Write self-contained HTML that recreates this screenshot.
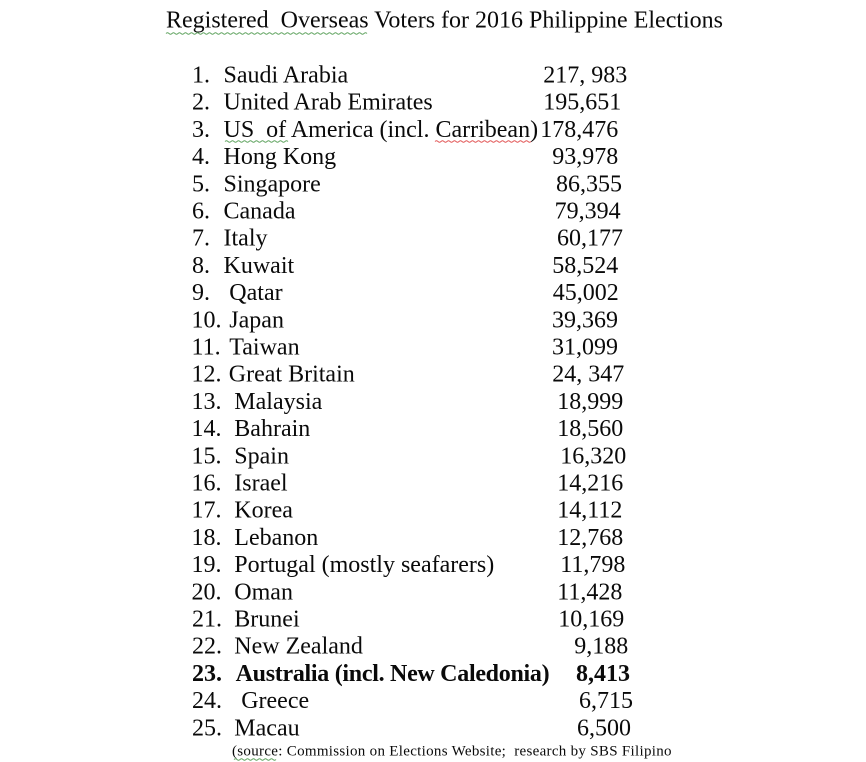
<!DOCTYPE html>
<html>
<head>
<meta charset="utf-8">
<style>
  html, body { margin:0; padding:0; background:#ffffff; }
  body { width:866px; height:762px; overflow:hidden; }
  svg { display:block; }
  text { font-family: "Liberation Serif", "Times New Roman", serif; fill:#0a0a0a; }
  .r { font-size:24px; }
  .b { font-weight:bold; }
  .t { font-size:24px; }
  .s { font-size:15px; letter-spacing:0.3px; }
</style>
</head>
<body>
<svg width="866" height="762" viewBox="0 0 866 762" xmlns="http://www.w3.org/2000/svg">
  <rect width="866" height="762" fill="#ffffff"/>
  <!-- Title -->
  <text class="t" x="166" y="27.7" xml:space="preserve">Registered  Overseas Voters for 2016 Philippine Elections</text>
  <path d="M166 33.5 q1.5 -1.5 3 0 t3 0 t3 0 t3 0 t3 0 t3 0 t3 0 t3 0 t3 0 t3 0 t3 0 t3 0 t3 0 t3 0 t3 0 t3 0 t3 0 t3 0 t3 0 t3 0 t3 0 t3 0 t3 0 t3 0 t3 0 t3 0 t3 0 t3 0 t3 0 t3 0 t3 0 t3 0 t3 0 t3 0 t3 0 t3 0 t3 0 t3 0 t3 0 t3 0 t3 0 t3 0 t3 0 t3 0 t3 0 t3 0 t3 0 t3 0 t3 0 t3 0 t3 0 t3 0 t3 0 t3 0 t3 0 t3 0 t3 0 t3 0 t3 0 t3 0 t3 0 t3 0 t3 0 t3 0 t3 0 t3 0 t3 0" fill="none" stroke="#5aa05a" stroke-width="0.9"/>

  <!-- Rows -->
  <g class="r">
    <text x="192" y="82.5">1.</text><text x="223.5" y="82.5">Saudi Arabia</text><text x="543.3" y="82.5">217, 983</text>
    <text x="192" y="109.7">2.</text><text x="223.5" y="109.7">United Arab Emirates</text><text x="543.3" y="109.7">195,651</text>
    <text x="192" y="136.9">3.</text><text x="223.5" y="136.9" xml:space="preserve">US  of America (incl. Carribean)</text><text x="540.3" y="136.9">178,476</text>
    <text x="192" y="164.1">4.</text><text x="223.5" y="164.1">Hong Kong</text><text x="552.3" y="164.1">93,978</text>
    <text x="192" y="191.3">5.</text><text x="223.5" y="191.3">Singapore</text><text x="556" y="191.3">86,355</text>
    <text x="192" y="218.5">6.</text><text x="223.5" y="218.5">Canada</text><text x="554.6" y="218.5">79,394</text>
    <text x="192" y="245.7">7.</text><text x="223.5" y="245.7">Italy</text><text x="557" y="245.7">60,177</text>
    <text x="192" y="272.9">8.</text><text x="223.5" y="272.9">Kuwait</text><text x="552.2" y="272.9">58,524</text>
    <text x="192" y="300.1">9.</text><text x="229.3" y="300.1">Qatar</text><text x="552.7" y="300.1">45,002</text>
    <text x="191.5" y="327.3">10.</text><text x="229.3" y="327.3">Japan</text><text x="552" y="327.3">39,369</text>
    <text x="191.5" y="354.5">11.</text><text x="229.3" y="354.5">Taiwan</text><text x="552" y="354.5">31,099</text>
    <text x="191.5" y="381.7">12.</text><text x="228.8" y="381.7">Great Britain</text><text x="552.3" y="381.7">24, 347</text>
    <text x="191.5" y="408.9">13.</text><text x="234.3" y="408.9">Malaysia</text><text x="557.3" y="408.9">18,999</text>
    <text x="191.5" y="436.1">14.</text><text x="234.3" y="436.1">Bahrain</text><text x="557.3" y="436.1">18,560</text>
    <text x="191.5" y="463.3">15.</text><text x="234.3" y="463.3">Spain</text><text x="560.3" y="463.3">16,320</text>
    <text x="191.5" y="490.5">16.</text><text x="234.3" y="490.5">Israel</text><text x="557.3" y="490.5">14,216</text>
    <text x="191.5" y="517.7">17.</text><text x="234.3" y="517.7">Korea</text><text x="557.3" y="517.7">14,112</text>
    <text x="191.5" y="544.9">18.</text><text x="234.3" y="544.9">Lebanon</text><text x="557.3" y="544.9">12,768</text>
    <text x="191.5" y="572.1">19.</text><text x="234.3" y="572.1">Portugal (mostly seafarers)</text><text x="560.3" y="572.1">11,798</text>
    <text x="191.5" y="599.3">20.</text><text x="234.3" y="599.3">Oman</text><text x="557.3" y="599.3">11,428</text>
    <text x="192" y="626.5">21.</text><text x="234.3" y="626.5">Brunei</text><text x="558.3" y="626.5">10,169</text>
    <text x="192" y="653.7">22.</text><text x="234.3" y="653.7">New Zealand</text><text x="574.3" y="653.7">9,188</text>
    <text class="b" x="192" y="680.9">23.</text><text class="b" x="235.6" y="680.9" textLength="314" lengthAdjust="spacing">Australia (incl. New Caledonia)</text><text class="b" x="576" y="680.9">8,413</text>
    <text x="192" y="708.1">24.</text><text x="241.2" y="708.1">Greece</text><text x="579" y="708.1">6,715</text>
    <text x="192" y="735.3">25.</text><text x="234.3" y="735.3">Macau</text><text x="577" y="735.3">6,500</text>
  </g>

  <!-- spelling/grammar squiggles row 3 -->
  <path d="M225 141.5 q1.5 -1.5 3 0 t3 0 t3 0 t3 0 t3 0 t3 0 t3 0 t3 0 t3 0 t3 0 t3 0 t3 0 t3 0 t3 0 t3 0 t3 0 t3 0 t3 0 t3 0 t3 0 t3 0" fill="none" stroke="#5aa05a" stroke-width="0.9"/>
  <path d="M435 141.5 q1.5 -1.5 3 0 t3 0 t3 0 t3 0 t3 0 t3 0 t3 0 t3 0 t3 0 t3 0 t3 0 t3 0 t3 0 t3 0 t3 0 t3 0 t3 0 t3 0 t3 0 t3 0 t3 0 t3 0 t3 0 t3 0 t3 0 t3 0 t3 0 t3 0 t3 0 t3 0 t3 0 t3 0" fill="none" stroke="#e05050" stroke-width="0.9"/>

  <!-- Source line -->
  <text class="s" x="232" y="755.5" xml:space="preserve">(source: Commission on Elections Website;  research by SBS Filipino</text>
  <path d="M234 759.5 q1.5 -1.5 3 0 t3 0 t3 0 t3 0 t3 0 t3 0 t3 0 t3 0 t3 0 t3 0 t3 0 t3 0 t3 0 t3 0" fill="none" stroke="#5aa05a" stroke-width="0.9"/>
</svg>
</body>
</html>
